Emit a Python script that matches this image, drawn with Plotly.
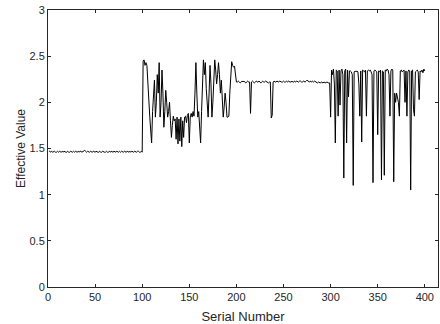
import plotly.graph_objects as go

seg_a = [1.47,1.47,1.46,1.47,1.46,1.47,1.47,1.46,1.46,1.47,
         1.46,1.47,1.46,1.46,1.47,1.46,1.47,1.46,1.46,1.46,
         1.47,1.46,1.46,1.47,1.46,1.46,1.47,1.46,1.47,1.46,
         1.46,1.47,1.46,1.47,1.47,1.46,1.47,1.47,1.48,1.47,
         1.46,1.47,1.46,1.46,1.47,1.46,1.46,1.47,1.46,1.46,
         1.47,1.46,1.46,1.46,1.47,1.46,1.46,1.47,1.46,1.46,
         1.46,1.47,1.46,1.46,1.47,1.46,1.47,1.46,1.46,1.47,
         1.46,1.46,1.47,1.46,1.46,1.47,1.46,1.47,1.46,1.46,
         1.47,1.46,1.46,1.47,1.46,1.46,1.47,1.46,1.47,1.46,
         1.46,1.47,1.46,1.46,1.47,1.47,1.46,1.46,1.47,1.46]

seg_b = [2.45,2.46,2.40,2.43,2.40,2.15,2.03,1.85,1.70,1.56,
         1.90,2.10,2.24,1.84,2.00,2.30,2.10,2.43,1.84,2.00,
         2.35,2.10,1.73,1.90,2.13,2.00,1.84,1.90,2.00,1.80,
         1.62,1.75,1.85,1.80,1.82,1.60,1.84,1.55,1.82,1.58,
         1.84,1.52,1.80,1.62,1.84,1.85,1.78,1.86,1.88,1.56,
         1.84,1.88,1.84,1.90,1.85,2.10,2.43,2.10,1.84,1.90,
         1.70,1.56,1.90,2.20,2.46,2.30,2.43,2.15,1.95,1.84,
         2.10,2.40,2.20,1.84,2.00,2.30,2.46,2.35,2.20,2.30,
         2.43,2.30,2.10,2.24,2.00,1.84,1.95,2.10,2.00,1.84,
         1.84,1.85,2.10,2.30,2.44,2.40,2.38,2.39,2.30,2.22]

seg_c = [2.22,2.23,2.22,2.21,2.22,2.23,2.22,2.23,2.22,2.21,
         2.22,2.23,2.22,2.22,1.88,2.22,2.23,2.22,2.21,2.22,
         2.23,2.22,2.22,2.23,2.22,2.21,2.22,2.23,2.22,2.22,
         2.23,2.22,2.22,2.21,2.22,2.22,1.83,1.86,2.22,2.23,
         2.22,2.22,2.23,2.22,2.22,2.23,2.22,2.22,2.22,2.23,
         2.22,2.22,2.23,2.22,2.23,2.22,2.22,2.22,2.23,2.22,
         2.22,2.23,2.22,2.23,2.22,2.22,2.23,2.23,2.22,2.22,
         2.23,2.22,2.22,2.23,2.24,2.23,2.22,2.22,2.23,2.22,
         2.23,2.22,2.23,2.22,2.22,2.21,2.22,2.21,2.21,2.22,
         2.21,2.21,2.22,2.21,2.21,2.22,2.21,2.21,2.21,1.84]

seg_d = [2.35,2.30,2.36,2.20,1.56,2.35,2.34,1.85,2.35,1.97,
         2.34,2.36,2.30,1.18,2.34,2.36,1.56,2.35,2.06,2.34,
         2.34,2.33,2.30,1.10,2.33,2.34,2.33,2.34,2.33,2.20,
         1.85,2.34,1.57,2.35,2.34,2.33,2.35,1.85,2.34,2.35,
         2.34,2.35,2.33,2.30,1.13,2.34,2.35,2.34,2.33,1.65,
         2.34,2.33,2.35,1.16,2.34,2.33,1.21,2.35,2.34,2.36,
         2.35,2.30,1.85,2.34,2.36,2.35,1.14,2.10,2.00,2.10,
         2.05,2.00,1.85,2.34,2.35,2.33,2.34,2.35,2.00,2.34,
         1.85,2.33,2.35,2.34,1.05,2.34,2.35,1.92,1.85,2.33,
         2.34,2.35,2.33,2.03,2.34,2.33,2.35,2.32,2.36,2.34]

values = seg_a + seg_b + seg_c + seg_d
serial = list(range(1, len(values) + 1))

x_ticks = [0, 50, 100, 150, 200, 250, 300, 350, 400]
y_ticks = [0, 0.5, 1, 1.5, 2, 2.5, 3]
y_tick_text = ["0", "0.5", "1", "1.5", "2", "2.5", "3"]

FONT = "Liberation Sans, Arial"

fig = go.Figure()
fig.add_trace(go.Scatter(x=serial, y=values, mode="lines",
                         line=dict(color="black", width=1), showlegend=False))

axis_common = dict(showline=True, linecolor="#262626", linewidth=1, mirror="ticks",
                   ticks="inside", ticklen=3, tickcolor="#262626", showgrid=False,
                   zeroline=False, automargin=False,
                   tickfont=dict(family=FONT, size=11, color="#262626"))

fig.update_xaxes(range=[0, 414], tickvals=x_ticks, ticktext=[str(t) for t in x_ticks],
                 title=dict(text="Serial Number", font=dict(family=FONT, size=13, color="#262626"), standoff=9),
                 **axis_common)
fig.update_yaxes(range=[0, 3], tickvals=y_ticks, ticktext=y_tick_text,
                 title=dict(text="Effective Value", font=dict(family=FONT, size=12, color="#262626"), standoff=1),
                 **axis_common)

fig.update_layout(width=440, height=324, margin=dict(l=48, r=2, t=10, b=37),
                  paper_bgcolor="white", plot_bgcolor="white")

fig.write_html("out.html", config={"displayModeBar": False},
               post_script="document.body.style.margin='0';document.body.style.overflow='hidden';")
